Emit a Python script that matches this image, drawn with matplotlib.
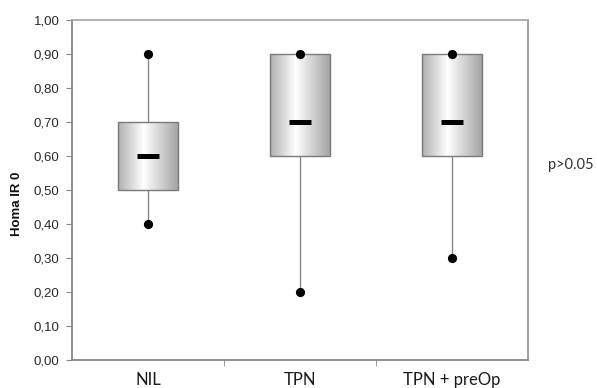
import matplotlib
matplotlib.use("Agg")
import matplotlib.pyplot as plt
import numpy as np
from matplotlib.patches import Rectangle
from matplotlib.colors import LinearSegmentedColormap
from matplotlib.transforms import ScaledTranslation

categories = ["NIL", "TPN", "TPN + preOp"]
mins = [0.40, 0.20, 0.30]
q1s = [0.50, 0.60, 0.60]
medians = [0.60, 0.70, 0.70]
q3s = [0.70, 0.90, 0.90]
maxs = [0.90, 0.90, 0.90]
yticks = [0.0, 0.1, 0.2, 0.3, 0.4, 0.5, 0.6, 0.7, 0.8, 0.9, 1.0]
ytick_labels = ["0,00", "0,10", "0,20", "0,30", "0,40", "0,50", "0,60", "0,70", "0,80", "0,90", "1,00"]

fig = plt.figure(figsize=(5.97, 3.88), dpi=100)
ax = fig.add_axes([72/597, 1-360/388, (528-72)/597, (360-20)/388])

cmap = LinearSegmentedColormap.from_list(
    "g", [(0.0, "#b0b0b0"), (0.42, "#ffffff"), (1.0, "#a2a2a2")])
grad = np.linspace(0, 1, 256).reshape(1, -1)

bw = 0.4
mw = 0.072
xs = np.arange(len(categories))
for x, lo, a, m, b, hi in zip(xs, mins, q1s, medians, q3s, maxs):
    ax.plot([x, x], [lo, a], color="#8a8a8a", lw=1.0, zorder=2)
    ax.plot([x, x], [b, hi], color="#8a8a8a", lw=1.0, zorder=2)
    ax.imshow(grad, extent=[x-bw/2, x+bw/2, a, b], aspect="auto", cmap=cmap,
              zorder=3, interpolation="bilinear")
    ax.add_patch(Rectangle((x-bw/2, a), bw, b-a, fill=False, edgecolor="#7a7a7a", lw=1.0, zorder=4))
    ax.plot([x-mw, x+mw], [m, m], color="black", lw=3.6, solid_capstyle="butt", zorder=5)
    ax.plot([x, x], [lo, hi], 'o', color="black", markersize=5.6, zorder=6, linestyle="none")

ax.set_xlim(-0.5, 2.5)
ax.set_ylim(0, 1.0)
ax.set_yticks(yticks)
ax.set_yticklabels(ytick_labels, fontsize=9.5, family="Liberation Sans", color="#2a2a2a")
ax.set_xticks(xs)
ax.set_xticklabels(categories, fontsize=12, family="Lato", color="#1a1a1a")
offsets_px = [-11, 1, 11]
for lab, dx in zip(ax.get_xticklabels(), offsets_px):
    lab.set_transform(lab.get_transform() + ScaledTranslation(dx/100, 0, fig.dpi_scale_trans))
ax.set_xticks([0.5, 1.5], minor=True)
ax.tick_params(axis="x", which="major", length=0, pad=8.5)
ax.tick_params(axis="x", which="minor", length=4, color="#888888", direction="out")
ax.tick_params(axis="y", length=4, color="#888888", direction="out", pad=5)
for s in ax.spines.values():
    s.set_color("#888888")
    s.set_linewidth(1.3)
ax.spines["top"].set_color("#aaaaaa")
ax.spines["right"].set_color("#999999")
ax.set_ylabel("Homa IR 0", fontsize=9.5, fontweight="bold", family="Liberation Sans", color="#111111")
ax.yaxis.set_label_coords(-49/456, (360-204)/340)

fig.text(548/597, 1-165/388, "p>0.05", fontsize=10.5, family="Lato", color="#333333", va="center", ha="left")

fig.savefig("out.png", dpi=100, facecolor="white")
